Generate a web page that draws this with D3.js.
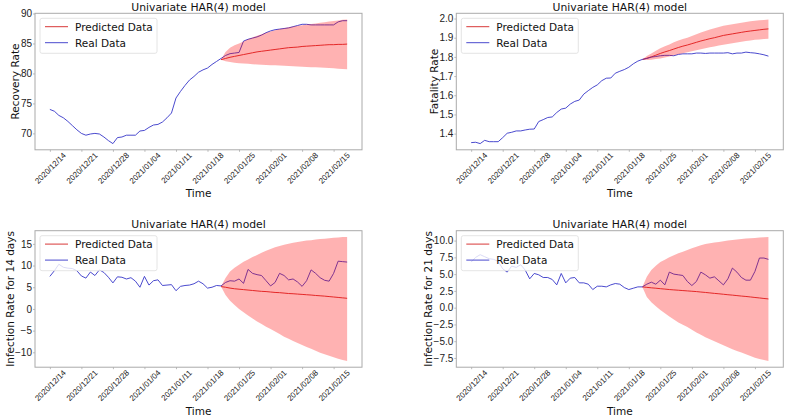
<!DOCTYPE html>
<html lang="en">
<head>
    <meta charset="UTF-8">
    <title>Univariate HAR(4) model</title>
    <script src="https://d3js.org/d3.v7.min.js"></script>
    <style>
        body { margin: 0; background: #fff; }
        svg { display: block; font-family: "DejaVu Sans", sans-serif; }
        .frame { fill: none; stroke: #aaa; stroke-width: 1; }
        .tick line { stroke: #bbb; }
        .real { fill: none; stroke: #3535c8; stroke-width: 0.9; }
        .pred { fill: none; stroke: #d42222; stroke-width: 0.9; }
        .band { fill: #ff0000; fill-opacity: 0.3; }
    </style>
</head>
<body>
<svg width="786" height="418"></svg>
<script>
    // Dates: daily from 2020/12/14, predictions start at index 38 (2021/01/21)
    const startDate = new Date(2020, 11, 14);
    const predStart = 38;
    const xTickLabels = ["2020/12/14", "2020/12/21", "2020/12/28", "2021/01/04", "2021/01/11",
        "2021/01/18", "2021/01/25", "2021/02/01", "2021/02/08", "2021/02/15"];

    const recoveryReal = [74.0, 73.7, 73.0, 72.6, 72.0, 71.3, 70.6, 70.0, 69.7, 69.9,
        70.0, 69.9, 69.4, 68.8, 68.3, 69.3, 69.4, 69.7, 69.7, 69.7,
        70.4, 70.5, 71.0, 71.4, 71.5, 71.9, 72.6, 73.4, 75.9, 77.0,
        78.0, 78.9, 79.5, 80.2, 80.6, 80.9, 81.5, 82.0, 82.5, 83.0,
        83.3, 83.4, 83.5, 85.4, 85.7, 85.9, 86.1, 86.4, 86.8, 87.1,
        87.3, 87.4, 87.5, 87.6, 87.8, 88.0, 88.2, 88.2, 88.1, 88.1,
        88.1, 88.1, 88.1, 88.1, 88.6, 88.8, 88.8];
    const recoveryPred = [82.3, 82.5, 82.7, 82.85, 83.0, 83.15, 83.3, 83.45, 83.6, 83.7,
        83.8, 83.9, 84.0, 84.1, 84.2, 84.3, 84.35, 84.4, 84.5, 84.55,
        84.6, 84.65, 84.7, 84.75, 84.8, 84.8, 84.85, 84.85, 84.9];
    const recoveryUpper = [82.3, 83.6, 84.3, 84.7, 85.0, 85.35, 85.7, 86.0, 86.3, 86.55,
        86.8, 87.0, 87.2, 87.4, 87.55, 87.7, 87.85, 87.95, 88.05, 88.15,
        88.25, 88.35, 88.45, 88.55, 88.65, 88.75, 88.85, 88.95, 89.0];
    const recoveryLower = [82.3, 82.05, 81.9, 81.8, 81.7, 81.65, 81.6, 81.55, 81.5, 81.45,
        81.4, 81.38, 81.35, 81.32, 81.3, 81.25, 81.2, 81.15, 81.1, 81.08,
        81.05, 81.02, 81.0, 80.95, 80.9, 80.85, 80.8, 80.75, 80.7];

    const fatalityReal = [1.353, 1.355, 1.348, 1.365, 1.358, 1.358, 1.358, 1.379, 1.402, 1.407,
        1.414, 1.414, 1.419, 1.423, 1.424, 1.463, 1.473, 1.484, 1.487, 1.510,
        1.528, 1.533, 1.554, 1.568, 1.575, 1.606, 1.624, 1.641, 1.654, 1.676,
        1.689, 1.690, 1.715, 1.725, 1.734, 1.746, 1.764, 1.778, 1.787, 1.792,
        1.799, 1.802, 1.806, 1.808, 1.808, 1.806, 1.813, 1.816, 1.816, 1.816,
        1.820, 1.820, 1.818, 1.820, 1.820, 1.820, 1.820, 1.822, 1.816, 1.820,
        1.820, 1.825, 1.822, 1.820, 1.816, 1.811, 1.804];
    const fatalityPred = [1.786, 1.793, 1.800, 1.809, 1.818, 1.826, 1.833, 1.841, 1.849, 1.856,
        1.862, 1.869, 1.876, 1.883, 1.889, 1.895, 1.900, 1.906, 1.912, 1.916,
        1.920, 1.924, 1.928, 1.932, 1.935, 1.938, 1.941, 1.944, 1.946];
    const fatalityUpper = [1.786, 1.805, 1.818, 1.832, 1.845, 1.855, 1.865, 1.876, 1.886, 1.893,
        1.900, 1.909, 1.918, 1.927, 1.935, 1.943, 1.950, 1.956, 1.962, 1.966,
        1.970, 1.974, 1.978, 1.982, 1.986, 1.989, 1.991, 1.993, 1.995];
    const fatalityLower = [1.786, 1.784, 1.785, 1.789, 1.792, 1.797, 1.802, 1.808, 1.814, 1.819,
        1.824, 1.830, 1.835, 1.840, 1.845, 1.850, 1.854, 1.859, 1.863, 1.867,
        1.871, 1.875, 1.879, 1.883, 1.886, 1.889, 1.891, 1.893, 1.895];

    const inf14Real = [7.5, 8.8, 10.3, 9.6, 9.4, 9.3, 8.8, 7.6, 7.1, 8.5,
        7.7, 9.0, 8.4, 7.3, 6.0, 7.4, 7.3, 6.9, 7.2, 6.4,
        5.0, 7.5, 5.5, 6.5, 6.7, 5.4, 5.5, 5.6, 4.2, 5.2,
        5.4, 5.5, 5.8, 6.4, 5.8, 4.8, 5.0, 5.4, 5.3, 6.1,
        6.5, 6.4, 6.9, 5.9, 9.1, 8.2, 7.9, 7.7, 6.5, 5.3,
        6.1, 8.2, 7.7, 6.7, 6.9, 6.2, 5.2, 6.5, 9.0, 8.2,
        7.2, 6.6, 6.4, 8.2, 11.0, 10.9, 10.8];
    const inf14Pred = [5.15, 5.0, 4.8, 4.65, 4.55, 4.45, 4.35, 4.25, 4.15, 4.05,
        4.0, 3.9, 3.8, 3.75, 3.65, 3.55, 3.5, 3.42, 3.35, 3.27,
        3.2, 3.1, 3.03, 2.95, 2.85, 2.75, 2.65, 2.55, 2.45];
    const inf14Upper = [5.15, 7.1, 8.6, 9.5, 10.2, 10.85, 11.4, 11.95, 12.45, 12.95,
        13.4, 13.8, 14.2, 14.5, 14.8, 15.05, 15.25, 15.45, 15.6, 15.75,
        15.85, 16.0, 16.1, 16.2, 16.3, 16.4, 16.45, 16.55, 16.6];
    const inf14Lower = [5.15, 3.2, 1.9, 0.9, 0.0, -0.75, -1.5, -2.2, -2.9, -3.5,
        -4.1, -4.65, -5.2, -5.8, -6.4, -6.9, -7.4, -7.85, -8.3, -8.75,
        -9.2, -9.65, -10.1, -10.45, -10.8, -11.15, -11.5, -11.75, -12.0];

    const inf21Real = [6.8, 7.5, 7.9, 7.6, 7.3, 7.2, 6.9, 5.8, 5.3, 6.2,
        6.0, 6.4, 5.6, 4.3, 5.1, 4.9, 4.5, 4.5, 4.2, 3.4,
        5.1, 3.7, 4.4, 4.5, 3.7, 3.7, 3.5, 2.7, 3.2, 3.2,
        3.1, 3.4, 3.6, 3.5, 3.0, 2.7, 2.9, 3.1, 3.1, 3.5,
        3.8, 3.5, 4.1, 3.4, 5.3, 5.0, 4.9, 4.8, 3.9, 3.3,
        3.9, 5.3, 4.9, 4.4, 4.6, 4.0, 3.4, 4.3, 5.9, 5.3,
        4.5, 4.1, 4.1, 5.4, 7.4, 7.4, 7.2];
    const inf21Pred = [3.1, 3.03, 2.96, 2.9, 2.83, 2.77, 2.7, 2.65, 2.6, 2.55,
        2.5, 2.45, 2.4, 2.33, 2.27, 2.2, 2.13, 2.07, 2.0, 1.93,
        1.87, 1.8, 1.73, 1.67, 1.6, 1.52, 1.45, 1.37, 1.3];
    const inf21Upper = [3.1, 4.6, 5.6, 6.25, 6.8, 7.15, 7.5, 7.8, 8.1, 8.35,
        8.6, 8.85, 9.1, 9.3, 9.5, 9.6, 9.7, 9.8, 9.9, 10.0,
        10.1, 10.17, 10.25, 10.3, 10.35, 10.4, 10.45, 10.5, 10.55];
    const inf21Lower = [3.1, 1.6, 0.8, 0.2, -0.35, -0.85, -1.3, -1.75, -2.2, -2.55,
        -2.9, -3.3, -3.7, -4.05, -4.4, -4.7, -5.0, -5.3, -5.6, -5.9,
        -6.2, -6.45, -6.7, -6.95, -7.2, -7.45, -7.65, -7.8, -7.95];

    const panels = [
        { left: 35, top: 13.3, ylabel: "Recovery Rate", real: recoveryReal, pred: recoveryPred,
          lo: recoveryLower, hi: recoveryUpper, yTicks: [70, 75, 80, 85, 90], fmt: d3.format("d") },
        { left: 456.3, top: 13.3, ylabel: "Fatality Rate", real: fatalityReal, pred: fatalityPred,
          lo: fatalityLower, hi: fatalityUpper, yTicks: [1.4, 1.5, 1.6, 1.7, 1.8, 1.9, 2.0], fmt: d3.format(".1f") },
        { left: 35, top: 230.7, ylabel: "Infection Rate for 14 days", real: inf14Real, pred: inf14Pred,
          lo: inf14Lower, hi: inf14Upper, yTicks: [-10, -5, 0, 5, 10, 15], fmt: d3.format("d") },
        { left: 456.3, top: 230.7, ylabel: "Infection Rate for 21 days", real: inf21Real, pred: inf21Pred,
          lo: inf21Lower, hi: inf21Upper, yTicks: [-7.5, -5.0, -2.5, 0.0, 2.5, 5.0, 7.5, 10.0], fmt: d3.format(".1f") }
    ];

    const W = 327, H = 136.5;
    const svg = d3.select("svg");
    const parseTick = d3.timeParse("%Y/%m/%d");
    const dayOf = i => d3.timeDay.offset(startDate, i);

    panels.forEach(p => {
        const g = svg.append("g").attr("transform", `translate(${p.left},${p.top})`);

        // x: time with matplotlib-like 5% margins
        const first = dayOf(0), last = dayOf(p.real.length - 1);
        const padMs = (last - first) * 0.05;
        const x = d3.scaleTime()
            .domain([new Date(+first - padMs), new Date(+last + padMs)])
            .range([0, W]);

        const all = p.real.concat(p.lo, p.hi);
        const [ymin, ymax] = d3.extent(all);
        const ypad = (ymax - ymin) * 0.05;
        const y = d3.scaleLinear().domain([ymin - ypad, ymax + ypad]).range([H, 0]);

        const realPts = p.real.map((v, i) => [dayOf(i), v]);
        const predPts = p.pred.map((v, i) => ({ d: dayOf(predStart + i), m: v, lo: p.lo[i], hi: p.hi[i] }));

        // lines first, band drawn on top with alpha (as in the source plot)
        g.append("path").datum(predPts).attr("class", "pred")
            .attr("d", d3.line().x(d => x(d.d)).y(d => y(d.m)));
        g.append("path").datum(realPts).attr("class", "real")
            .attr("d", d3.line().x(d => x(d[0])).y(d => y(d[1])));
        g.append("path").datum(predPts).attr("class", "band")
            .attr("d", d3.area().x(d => x(d.d)).y0(d => y(d.lo)).y1(d => y(d.hi)));

        // x axis
        const fsX = 8;
        const xa = g.append("g").attr("transform", `translate(0,${H})`)
            .call(d3.axisBottom(x).tickValues(xTickLabels.map(parseTick))
                .tickFormat(d3.timeFormat("%Y/%m/%d")).tickSize(2).tickPadding(0));
        xa.select(".domain").remove();
        xa.selectAll("text")
            .style("font-size", fsX + "px").style("fill", "#222")
            .attr("y", 0).attr("dy", "0.35em")
            .attr("transform", function () {
                const L = this.getComputedTextLength();
                const bh = (L + fsX * 0.75) * Math.SQRT1_2;
                return `translate(0,${2 + bh / 2}) rotate(-45)`;
            });

        // y axis
        const ya = g.append("g")
            .call(d3.axisLeft(y).tickValues(p.yTicks).tickFormat(p.fmt).tickSize(2).tickPadding(1));
        ya.select(".domain").remove();
        ya.selectAll("text").style("font-size", "10px").style("fill", "#222");
        let maxW = 0;
        ya.selectAll("text").each(function () { maxW = Math.max(maxW, this.getComputedTextLength()); });

        g.append("rect").attr("class", "frame").attr("width", W).attr("height", H);

        g.append("text").attr("x", W / 2).attr("y", -2.8)
            .attr("text-anchor", "middle").style("font-size", "10.8px").style("fill", "#111")
            .text("Univariate HAR(4) model");

        g.append("text").attr("x", W / 2).attr("y", H + 47.5)
            .attr("text-anchor", "middle").style("font-size", "10.5px").style("fill", "#111")
            .text("Time");

        g.append("text")
            .attr("transform", `translate(${-3 - maxW - 1.5},${H / 2}) rotate(-90)`)
            .attr("text-anchor", "middle").style("font-size", "10.5px").style("fill", "#111")
            .text(p.ylabel);

        // legend
        const lg = g.append("g").attr("transform", "translate(5,5)");
        lg.append("rect").attr("width", 117).attr("height", 35).attr("rx", 2)
            .attr("fill", "#fff").attr("fill-opacity", 0.8)
            .attr("stroke", "#ddd").attr("stroke-width", 0.8);
        const items = [{ name: "Predicted Data", cls: "pred" }, { name: "Real Data", cls: "real" }];
        items.forEach((it, i) => {
            lg.append("line").attr("class", it.cls)
                .attr("x1", 5).attr("x2", 28).attr("y1", 8.4 + i * 16).attr("y2", 8.4 + i * 16);
            lg.append("text").attr("x", 35).attr("y", 12.4 + i * 16)
                .style("font-size", "10.5px").style("fill", "#111").text(it.name);
        });
    });
</script>
</body>
</html>
